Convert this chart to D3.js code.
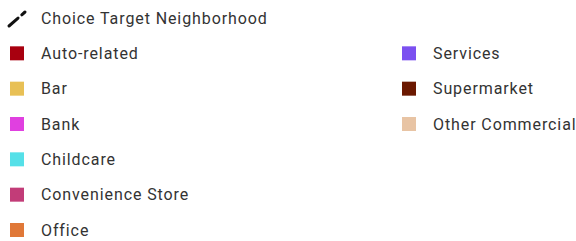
<!DOCTYPE html>
<html><head><meta charset="utf-8">
<script src="https://cdn.jsdelivr.net/npm/d3@7"></script>
<style>html,body{margin:0;padding:0;background:#fff;}svg{display:block;}</style>
</head><body>
<script>
const lineLabel = "Choice Target Neighborhood";
const categories = ["Auto-related","Bar","Bank","Childcare","Convenience Store","Office","Services","Supermarket","Other Commercial"];
const colors = ["#a8000f","#e8c055","#e040e0","#55e0e8","#c23c78","#e07838","#7b50f0","#6b1800","#e8c4a4"];

const W = 576, H = 241;
const svg = d3.select("body").append("svg").attr("width", W).attr("height", H);
const color = d3.scaleOrdinal().domain(categories).range(colors);
const rowY = d3.scalePoint().domain(d3.range(7)).range([18, 230]);
const colX = d3.scaleOrdinal().domain([0,1]).range([17, 409]);
const items = [{label: lineLabel, type: "line"}].concat(categories.map(c => ({label: c, type: "square"})));
items.forEach((d, i) => {
  d.col = i < 7 ? 0 : 1;
  d.row = i < 7 ? i : i - 6;
});
const g = svg.selectAll("g.item").data(items).join("g")
  .attr("class", "item")
  .attr("transform", d => `translate(${colX(d.col)},${rowY(d.row)})`);
g.filter(d => d.type === "square").append("rect")
  .attr("x", -7).attr("y", -7).attr("width", 14).attr("height", 14)
  .attr("fill", d => color(d.label));
g.filter(d => d.type === "line").append("line")
  .attr("x1", -8).attr("y1", 8).attr("x2", 8).attr("y2", -6)
  .attr("stroke", "#111").attr("stroke-width", 3)
  .attr("stroke-dasharray", "12,5").attr("stroke-linecap", "round");
g.append("text")
  .attr("x", 24).attr("dy", "0.35em")
  .attr("font-family", "Roboto, sans-serif").attr("font-size", 16)
  .attr("letter-spacing", 0.9)
  .attr("fill", "#333")
  .text(d => d.label);
</script>
</body></html>
